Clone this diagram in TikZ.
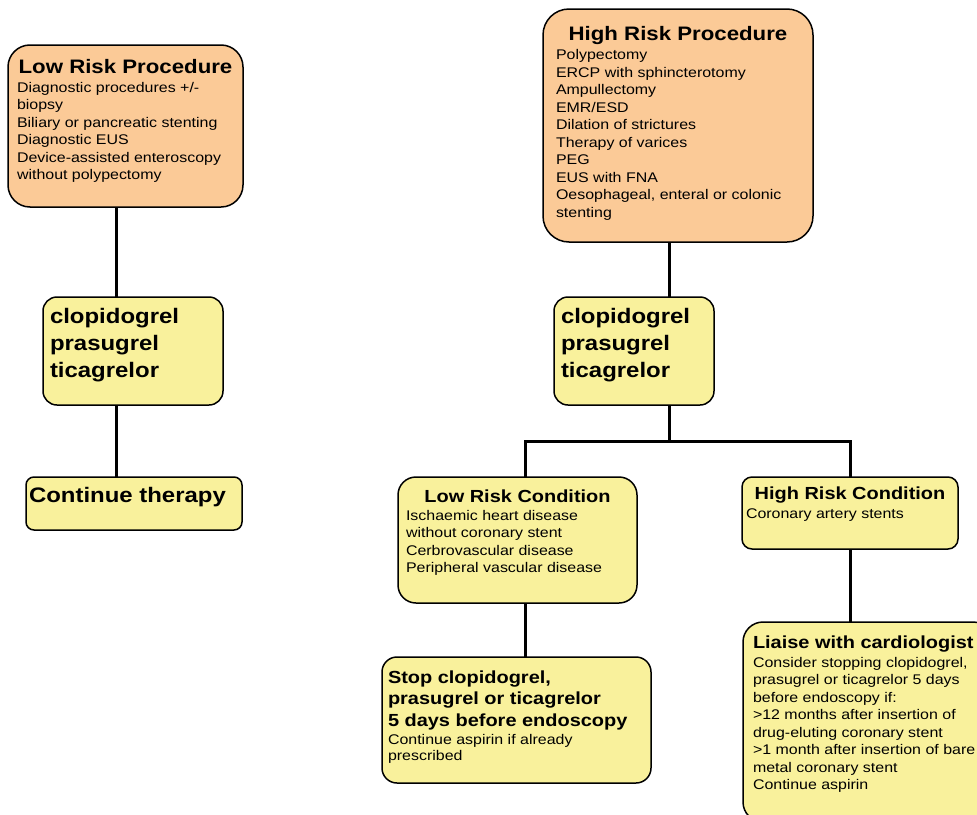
\documentclass[tikz,border=0pt]{standalone}
\usepackage{fontspec}
\setmainfont[FakeStretch=1.14]{Liberation Sans}
\usetikzlibrary{positioning}
\definecolor{peach}{HTML}{FBCA97}
\definecolor{lemon}{HTML}{F9F19C}
\newcommand{\bodyfont}{\fontsize{14}{17.5}\selectfont}
\newcommand{\headfont}[2]{\fontsize{#1}{#2}\selectfont\bfseries}
\newcommand{\panelbody}[3]{\begin{minipage}[c][#2][t]{#1}\bodyfont\raggedright #3\end{minipage}}
\tikzset{
  panel/.style={draw=black, line width=1.5pt, anchor=north west, inner sep=0pt, outer sep=0pt},
  proc/.style={panel, fill=peach},
  drug/.style={panel, fill=lemon},
  link/.style={line width=3pt},
}

\begin{document}
\begin{tikzpicture}[x=1pt,y=-1pt]
  \useasboundingbox (0,0) rectangle (977,814);
  \clip (0,0) rectangle (977,814);

  % procedures
  \node[proc, rounded corners=22pt, inner xsep=9pt, inner ysep=14pt] (lowproc) at (8,45)
    {\panelbody{217pt}{134pt}{{\centering\headfont{19.5}{19.5}Low Risk Procedure\par}\vspace{1.5pt}
      Diagnostic procedures +/-\\ biopsy\\ Biliary or pancreatic stenting\\ Diagnostic EUS\\
      Device-assisted enteroscopy\\ without polypectomy}};
  \node[proc, rounded corners=26pt, inner xsep=13pt, inner ysep=17pt] (highproc) at (543,9)
    {\panelbody{244pt}{199pt}{{\centering\headfont{19.5}{19.5}High Risk Procedure\par}\vspace{2pt}
      Polypectomy\\ ERCP with sphincterotomy\\ Ampullectomy\\ EMR/ESD\\ Dilation of strictures\\
      Therapy of varices\\ PEG\\ EUS with FNA\\ Oesophageal, enteral or colonic\\ stenting}};

  % drugs
  \node[drug, rounded corners=14pt, inner xsep=7pt, inner ysep=11pt] (lowdrug) at (43,297)
    {\panelbody{166pt}{86pt}{\headfont{21}{27}clopidogrel\\ prasugrel\\ ticagrelor}};
  \node[drug, rounded corners=14pt, inner xsep=7pt, inner ysep=11pt] (highdrug) at (554,297)
    {\panelbody{146pt}{86pt}{\headfont{21}{27}clopidogrel\\ prasugrel\\ ticagrelor}};

  \node[drug, rounded corners=8pt, inner xsep=3pt, inner ysep=10pt] (cont) at (26,477)
    {\panelbody{210pt}{33pt}{\headfont{21}{21}Continue therapy}};

  % conditions
  \node[drug, rounded corners=18pt, inner xsep=8pt, inner ysep=12.5pt] (lowcond) at (398,477)
    {\panelbody{223pt}{101pt}{{\centering\headfont{17.5}{17.5}Low Risk Condition\par}\vspace{0.5pt}
      Ischaemic heart disease\\ without coronary stent\\ Cerbrovascular disease\\ Peripheral vascular disease}};
  \node[drug, rounded corners=10pt, inner xsep=4pt, inner ysep=9.5pt] (highcond) at (742,477)
    {\panelbody{208pt}{53pt}{{\centering\headfont{17.5}{17.5}High Risk Condition\par}\vspace{1.5pt}
      Coronary artery stents}};

  % outcomes
  \node[drug, rounded corners=15pt, inner xsep=6pt, inner ysep=13.5pt] (stop) at (382,657)
    {\panelbody{257pt}{99pt}{{\headfont{17.5}{21.5}Stop clopidogrel,\\ prasugrel or ticagrelor\\ 5 days before endoscopy\par}\vspace{1.5pt}
      \fontsize{14}{16.5}\selectfont Continue aspirin if already\\ prescribed}};
  \node[drug, rounded corners=20pt, inner xsep=10pt, inner ysep=13.5pt] (liaise) at (743,622)
    {\panelbody{230pt}{173pt}{{\headfont{17.5}{17.5}Liaise with cardiologist\par}\vspace{1.5pt}
      Consider stopping clopidogrel,\\ prasugrel or ticagrelor 5 days\\ before endoscopy if:\\
      >12 months after insertion of\\ drug-eluting coronary stent\\ >1 month after insertion of bare\\
      metal coronary stent\\ Continue aspirin}};

  % connectors
  \coordinate (lspine) at (116,0);
  \coordinate (rspine) at (669,0);
  \coordinate (lcol) at (525,0);
  \coordinate (fork) at (669,441);
  \draw[link] (lowproc.south -| lspine) -- (lowdrug.north -| lspine);
  \draw[link] (lowdrug.south -| lspine) -- (cont.north -| lspine);
  \draw[link] (highproc.south -| rspine) -- (highdrug.north -| rspine);
  \draw[link] (highdrug.south -| rspine) -- (fork);
  \draw[link] (lowcond.north -| lcol) |- (fork) -| (highcond.north);
  \draw[link] (lowcond.south -| lcol) -- (stop.north -| lcol);
  \draw[link] (highcond.south) -- (liaise.north -| highcond.south);
\end{tikzpicture}
\end{document}
